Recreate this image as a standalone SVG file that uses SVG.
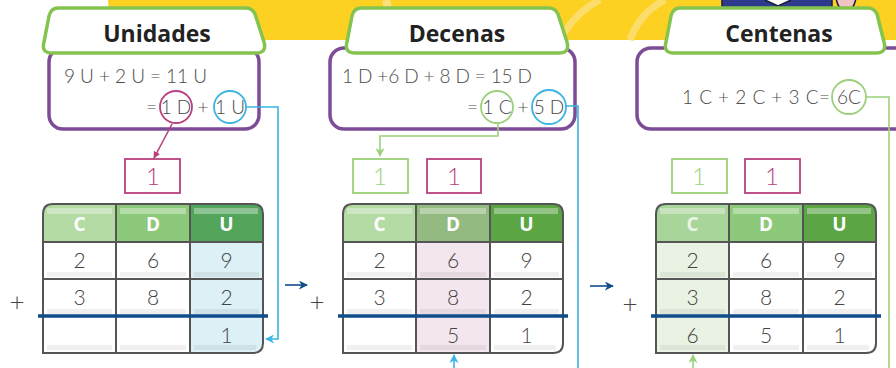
<svg xmlns="http://www.w3.org/2000/svg" width="896" height="368" viewBox="0 0 896 368">
  <style>
    .tab { fill: #ffffff; stroke: #84C44E; stroke-width: 3.5; stroke-linejoin: round; }
    .tabtxt { font-family: "Open Sans", "Liberation Sans", sans-serif; font-weight: 700; font-size: 23px; fill: #222222; text-anchor: middle; }
    .box { fill: #ffffff; stroke: #7D4C96; stroke-width: 3.5; }
    .eq { font-family: "Lato", "Open Sans", "Liberation Sans", sans-serif; font-weight: 300; font-size: 19px; fill: #4a4a4a; }
    .num { font-family: "Lato", "Open Sans", "Liberation Sans", sans-serif; font-weight: 300; font-size: 21px; fill: #444444; text-anchor: middle; }
    .hd { font-family: "Open Sans", "Liberation Sans", sans-serif; font-weight: 700; font-size: 19px; fill: #ffffff; text-anchor: middle; }
    .grid { fill: none; stroke: #555555; stroke-width: 2; }
    .strip { fill: #000000; opacity: 0.06; }
    .shine { fill: #ffffff; opacity: 0.35; }
    .sum { stroke: #0E4C8A; stroke-width: 3.5; }
    .carry { fill: #ffffff; stroke-width: 1.8; }
    .ctxt { font-family: "Lato", "Open Sans", "Liberation Sans", sans-serif; font-weight: 300; font-size: 24px; text-anchor: middle; }
    .plus { font-family: "Lato", "Open Sans", "Liberation Sans", sans-serif; font-weight: 300; font-size: 26px; fill: #444444; text-anchor: middle; }
    .ring { fill: none; stroke-width: 1.8; }
    .wire { fill: none; stroke-width: 1.6; }
  </style>
  <defs>
    <clipPath id="tableClip">
      <path d="M0,149 V10 Q0,0 10,0 H210 Q220,0 220,10 V139 Q220,149 210,149 Z"/>
    </clipPath>
    <marker id="arrMag" viewBox="0 0 10 10" refX="9" refY="5" markerWidth="7" markerHeight="7" orient="auto" markerUnits="userSpaceOnUse">
      <path d="M0,0 L10,5 L0,10 Z" fill="#B8407E"/>
    </marker>
    <marker id="arrCyan" viewBox="0 0 10 10" refX="9" refY="5" markerWidth="9" markerHeight="9" orient="auto" markerUnits="userSpaceOnUse">
      <path d="M0,0 L10,5 L0,10 L3,5 Z" fill="#3BB5E2"/>
    </marker>
    <marker id="arrGreen" viewBox="0 0 10 10" refX="9" refY="5" markerWidth="9" markerHeight="9" orient="auto" markerUnits="userSpaceOnUse">
      <path d="M0,0 L10,5 L0,10 L3,5 Z" fill="#9BD17A"/>
    </marker>
    <marker id="arrBlue" viewBox="0 0 10 10" refX="9" refY="5" markerWidth="9" markerHeight="9" orient="auto" markerUnits="userSpaceOnUse">
      <path d="M0,0 L10,5 L0,10 L3,5 Z" fill="#0E4C8A"/>
    </marker>
  </defs>

  <!-- page background -->
  <rect width="896" height="368" fill="#ffffff"/>

  <!-- yellow banner along the top with soft decorative rings -->
  <g id="banner">
    <path d="M108,0 H896 V40 H140 A32,40 0 0 1 108,0 Z" fill="#FDD122"/>
    <path d="M386,0 Q392,20 390,40" fill="none" stroke="#FDE07A" stroke-width="8"/>
    <path d="M560,40 Q575,12 600,0" fill="none" stroke="#FDDD6A" stroke-width="7"/>
    <path d="M630,40 Q640,12 665,0" fill="none" stroke="#FDDD6A" stroke-width="7"/>
    <!-- figure peeking in at the top -->
    <rect x="722" y="-4" width="110" height="13" rx="3" fill="#2E3A8C" stroke="#1c1c3a" stroke-width="1.5"/>
    <path d="M765,0 L778,6 L791,0" fill="#ffffff" stroke="#1c1c3a" stroke-width="1.5"/>
    <path d="M836,-2 Q838,10 846,12 Q854,10 856,-2 Z" fill="#F2C3C3" stroke="#1c1c3a" stroke-width="1.5"/>
  </g>

  <!-- ===== Unidades ===== -->
  <g id="unidades-box">
    <rect class="box" x="49" y="48" width="210" height="81" rx="14"/>
    <text class="eq" x="64" y="83" textLength="143" lengthAdjust="spacing">9 U + 2 U = 11 U</text>
    <text class="eq" x="146" y="114">=</text>
    <circle class="ring" cx="176" cy="107" r="16" stroke="#B8407E"/>
    <text class="eq" x="176" y="114" text-anchor="middle">1 D</text>
    <text class="eq" x="203" y="114" text-anchor="middle">+</text>
    <circle class="ring" cx="230" cy="107" r="16" stroke="#3BB5E2"/>
    <text class="eq" x="230" y="114" text-anchor="middle">1 U</text>
  </g>
  <g id="unidades-tab">
    <path class="tab" d="M58,8 H246 Q252,8 255,14 L264,42 Q267,53 256,53 H52 Q41,53 44,42 L49,16 Q51,8 58,8 Z"/>
    <text class="tabtxt" x="157" y="42">Unidades</text>
  </g>

  <!-- ===== Decenas ===== -->
  <g id="decenas-box">
    <rect class="box" x="330" y="48" width="245" height="81" rx="14"/>
    <text class="eq" x="342" y="83" textLength="190" lengthAdjust="spacing">1 D +6 D + 8 D = 15 D</text>
    <text class="eq" x="467" y="114">=</text>
    <circle class="ring" cx="497" cy="107" r="16" stroke="#9BD17A"/>
    <text class="eq" x="497" y="114" text-anchor="middle">1 C</text>
    <text class="eq" x="523" y="114" text-anchor="middle">+</text>
    <circle class="ring" cx="549" cy="107" r="17" stroke="#3BB5E2"/>
    <text class="eq" x="549" y="114" text-anchor="middle">5 D</text>
  </g>
  <g id="decenas-tab">
    <path class="tab" d="M361,8 H549 Q555,8 558,14 L567,42 Q570,53 559,53 H355 Q344,53 347,42 L352,16 Q354,8 361,8 Z"/>
    <text class="tabtxt" x="457" y="42">Decenas</text>
  </g>

  <!-- ===== Centenas ===== -->
  <g id="centenas-box">
    <rect class="box" x="637" y="48" width="275" height="81" rx="14"/>
    <text class="eq" x="682" y="104" textLength="148" lengthAdjust="spacing">1 C + 2 C + 3 C=</text>
    <circle class="ring" cx="849" cy="97" r="17" stroke="#9BD17A"/>
    <text class="eq" x="849" y="104" text-anchor="middle">6C</text>
  </g>
  <g id="centenas-tab">
    <path class="tab" d="M680,8 H868 Q874,8 877,14 L884,42 Q887,53 876,53 H674 Q663,53 666,42 L671,16 Q673,8 680,8 Z"/>
    <text class="tabtxt" x="779" y="42">Centenas</text>
  </g>

  <!-- ===== carry boxes ===== -->
  <g id="carry-1">
    <rect class="carry" x="125" y="159" width="55" height="34" stroke="#B8407E"/>
    <text class="ctxt" x="153" y="185" fill="#B8407E">1</text>
  </g>
  <g id="carry-2a">
    <rect class="carry" x="353" y="159" width="55" height="34" stroke="#9BD17A"/>
    <text class="ctxt" x="380" y="185" fill="#9BD17A">1</text>
  </g>
  <g id="carry-2b">
    <rect class="carry" x="427" y="159" width="54" height="34" stroke="#B8407E"/>
    <text class="ctxt" x="454" y="185" fill="#B8407E">1</text>
  </g>
  <g id="carry-3a">
    <rect class="carry" x="672" y="159" width="55" height="34" stroke="#9BD17A"/>
    <text class="ctxt" x="699" y="185" fill="#9BD17A">1</text>
  </g>
  <g id="carry-3b">
    <rect class="carry" x="745" y="159" width="55" height="34" stroke="#B8407E"/>
    <text class="ctxt" x="772" y="185" fill="#B8407E">1</text>
  </g>

  <!-- ===== table 1 ===== -->
  <g id="table-1" transform="translate(43,204)">
    <g clip-path="url(#tableClip)">
      <rect x="0" y="0" width="73" height="38" fill="#B3DBA3"/>
      <rect x="73" y="0" width="74" height="38" fill="#8CC97A"/>
      <rect x="147" y="0" width="73" height="38" fill="#52A55A"/>
      <rect x="147" y="38" width="73" height="111" fill="#DCF0F6"/>
    </g>
    <rect class="shine" x="4" y="4" width="65" height="6"/>
    <rect class="shine" x="77" y="4" width="66" height="6"/>
    <rect class="shine" x="151" y="4" width="64" height="6"/>
    <g>
      <rect class="strip" x="4" y="68" width="65" height="5"/>
      <rect class="strip" x="77" y="68" width="66" height="5"/>
      <rect class="strip" x="151" y="68" width="65" height="5"/>
      <rect class="strip" x="4" y="105" width="65" height="5"/>
      <rect class="strip" x="77" y="105" width="66" height="5"/>
      <rect class="strip" x="151" y="105" width="65" height="5"/>
      <rect class="strip" x="4" y="141" width="65" height="5"/>
      <rect class="strip" x="77" y="141" width="66" height="5"/>
      <rect class="strip" x="151" y="141" width="62" height="5"/>
    </g>
    <path class="grid" d="M0,149 V10 Q0,0 10,0 H210 Q220,0 220,10 V139 Q220,149 210,149 Z M73,0 V149 M147,0 V149 M0,38 H220 M0,75 H220"/>
    <line class="sum" x1="-5" y1="112" x2="225" y2="112"/>
    <text class="hd" x="36.5" y="27">C</text>
    <text class="hd" x="110" y="27">D</text>
    <text class="hd" x="183.5" y="27">U</text>
    <text class="num" x="36.5" y="64">2</text>
    <text class="num" x="110" y="64">6</text>
    <text class="num" x="183.5" y="64">9</text>
    <text class="num" x="36.5" y="101">3</text>
    <text class="num" x="110" y="101">8</text>
    <text class="num" x="183.5" y="101">2</text>
    <text class="num" x="183.5" y="139">1</text>
  </g>
  <text class="plus" x="17" y="311">+</text>

  <!-- ===== table 2 ===== -->
  <g id="table-2" transform="translate(343,204)">
    <g clip-path="url(#tableClip)">
      <rect x="0" y="0" width="73" height="38" fill="#B3DBA3"/>
      <rect x="73" y="0" width="74" height="38" fill="#93BA80"/>
      <rect x="147" y="0" width="73" height="38" fill="#5BA544"/>
      <rect x="73" y="38" width="74" height="111" fill="#F4E6EE"/>
    </g>
    <rect class="shine" x="4" y="4" width="65" height="6"/>
    <rect class="shine" x="77" y="4" width="66" height="6"/>
    <rect class="shine" x="151" y="4" width="64" height="6"/>
    <g>
      <rect class="strip" x="4" y="68" width="65" height="5"/>
      <rect class="strip" x="77" y="68" width="66" height="5"/>
      <rect class="strip" x="151" y="68" width="65" height="5"/>
      <rect class="strip" x="4" y="105" width="65" height="5"/>
      <rect class="strip" x="77" y="105" width="66" height="5"/>
      <rect class="strip" x="151" y="105" width="65" height="5"/>
      <rect class="strip" x="4" y="141" width="65" height="5"/>
      <rect class="strip" x="77" y="141" width="66" height="5"/>
      <rect class="strip" x="151" y="141" width="62" height="5"/>
    </g>
    <path class="grid" d="M0,149 V10 Q0,0 10,0 H210 Q220,0 220,10 V139 Q220,149 210,149 Z M73,0 V149 M147,0 V149 M0,38 H220 M0,75 H220"/>
    <line class="sum" x1="-5" y1="112" x2="225" y2="112"/>
    <text class="hd" x="36.5" y="27">C</text>
    <text class="hd" x="110" y="27">D</text>
    <text class="hd" x="183.5" y="27">U</text>
    <text class="num" x="36.5" y="64">2</text>
    <text class="num" x="110" y="64">6</text>
    <text class="num" x="183.5" y="64">9</text>
    <text class="num" x="36.5" y="101">3</text>
    <text class="num" x="110" y="101">8</text>
    <text class="num" x="183.5" y="101">2</text>
    <text class="num" x="110" y="139">5</text>
    <text class="num" x="183.5" y="139">1</text>
  </g>
  <text class="plus" x="317" y="311">+</text>

  <!-- ===== table 3 ===== -->
  <g id="table-3" transform="translate(656,204)">
    <g clip-path="url(#tableClip)">
      <rect x="0" y="0" width="73" height="38" fill="#A8D59A"/>
      <rect x="73" y="0" width="74" height="38" fill="#8CC97A"/>
      <rect x="147" y="0" width="73" height="38" fill="#5BA544"/>
      <rect x="0" y="38" width="73" height="111" fill="#EAF3E3"/>
    </g>
    <rect class="shine" x="4" y="4" width="65" height="6"/>
    <rect class="shine" x="77" y="4" width="66" height="6"/>
    <rect class="shine" x="151" y="4" width="64" height="6"/>
    <g>
      <rect class="strip" x="4" y="68" width="65" height="5"/>
      <rect class="strip" x="77" y="68" width="66" height="5"/>
      <rect class="strip" x="151" y="68" width="65" height="5"/>
      <rect class="strip" x="4" y="105" width="65" height="5"/>
      <rect class="strip" x="77" y="105" width="66" height="5"/>
      <rect class="strip" x="151" y="105" width="65" height="5"/>
      <rect class="strip" x="4" y="141" width="65" height="5"/>
      <rect class="strip" x="77" y="141" width="66" height="5"/>
      <rect class="strip" x="151" y="141" width="62" height="5"/>
    </g>
    <path class="grid" d="M0,149 V10 Q0,0 10,0 H210 Q220,0 220,10 V139 Q220,149 210,149 Z M73,0 V149 M147,0 V149 M0,38 H220 M0,75 H220"/>
    <line class="sum" x1="-5" y1="112" x2="225" y2="112"/>
    <text class="hd" x="36.5" y="27" opacity="0.75">C</text>
    <text class="hd" x="110" y="27">D</text>
    <text class="hd" x="183.5" y="27">U</text>
    <text class="num" x="36.5" y="64">2</text>
    <text class="num" x="110" y="64">6</text>
    <text class="num" x="183.5" y="64">9</text>
    <text class="num" x="36.5" y="101">3</text>
    <text class="num" x="110" y="101">8</text>
    <text class="num" x="183.5" y="101">2</text>
    <text class="num" x="36.5" y="139">6</text>
    <text class="num" x="110" y="139">5</text>
    <text class="num" x="183.5" y="139">1</text>
  </g>
  <text class="plus" x="630" y="313">+</text>

  <!-- ===== connectors ===== -->
  <g id="connectors">
    <line class="wire" x1="172" y1="124" x2="154" y2="158" stroke="#B8407E" marker-end="url(#arrMag)"/>
    <polyline class="wire" points="246,107 278,107 278,339 266,339" stroke="#3BB5E2" marker-end="url(#arrCyan)"/>
    <polyline class="wire" points="498,123 498,136 380,136 380,156" stroke="#9BD17A" marker-end="url(#arrGreen)"/>
    <polyline class="wire" points="566,106 578,106 578,370" stroke="#3BB5E2"/>
    <line class="wire" x1="454" y1="370" x2="454" y2="355" stroke="#3BB5E2" marker-end="url(#arrCyan)"/>
    <polyline class="wire" points="866,97 889,97 889,370" stroke="#9BD17A"/>
    <line class="wire" x1="693" y1="370" x2="693" y2="355" stroke="#9BD17A" marker-end="url(#arrGreen)"/>
    <line class="wire" x1="285" y1="285" x2="307" y2="285" stroke="#0E4C8A" marker-end="url(#arrBlue)"/>
    <line class="wire" x1="590" y1="286" x2="613" y2="286" stroke="#0E4C8A" marker-end="url(#arrBlue)"/>
  </g>
</svg>
